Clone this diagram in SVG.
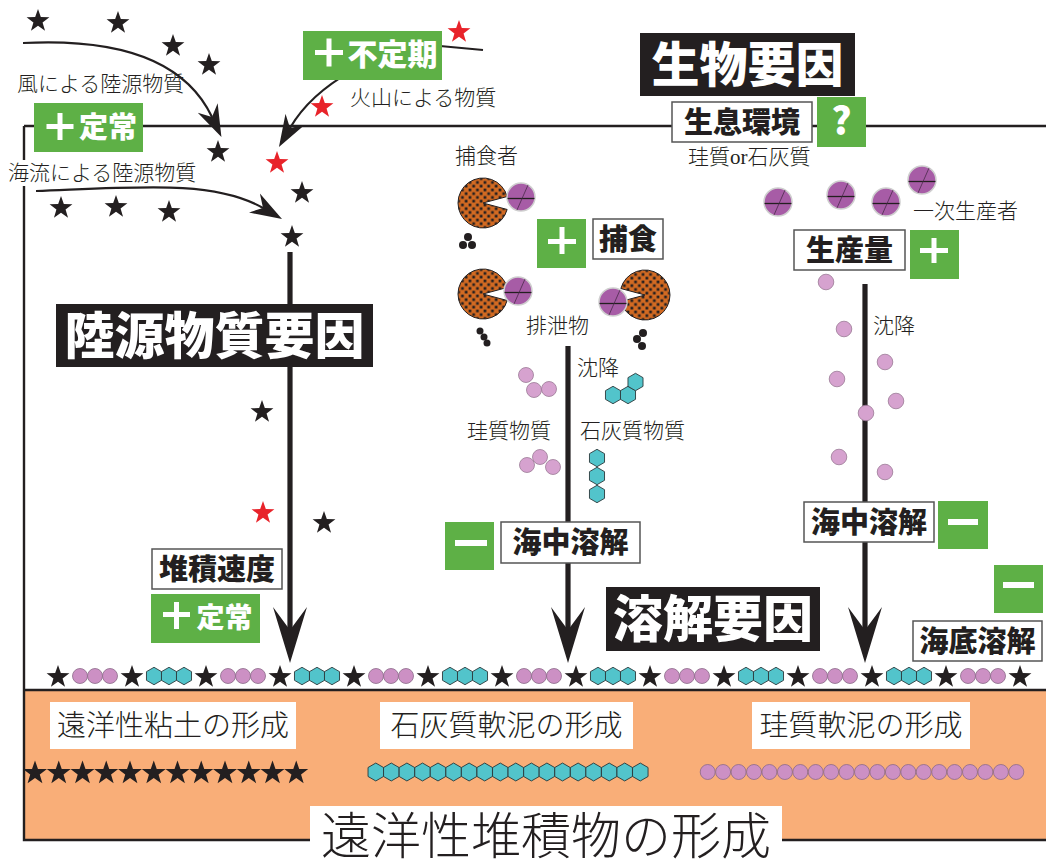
<svg xmlns="http://www.w3.org/2000/svg" width="1046" height="866" viewBox="0 0 1046 866">
<defs>
<style>
.frame{stroke:#231f20;stroke-width:2.4;fill:none}
.shaft{stroke:#231f20;stroke-width:5.2}
.curve{stroke:#231f20;stroke-width:2.2;fill:none}
.ink{fill:#231f20}
.serif{font-family:"Liberation Serif","Noto Sans CJK JP",serif;font-size:21px;font-weight:300;fill:#231f20}
.bigserif{font-family:"Liberation Serif","Noto Sans CJK JP",serif;font-weight:300;fill:#231f20;text-anchor:middle}
.head{font-family:"Noto Sans CJK JP","Noto Sans CJK SC",sans-serif;font-weight:900;fill:#fff;text-anchor:middle}
.lbl{font-family:"Noto Sans CJK JP","Noto Sans CJK SC",sans-serif;font-weight:900;font-size:29px;fill:#231f20;text-anchor:middle}
.blk{fill:#231f20}
.wbox{fill:#fff;stroke:#555;stroke-width:1.5}
.plain{fill:#fff}
.green{fill:#5eb046}
.wt{fill:#fff}
.star{fill:#231f20}
.red{fill:#e8232a}
.silt{fill:#cc90c4;stroke:#8a6a88;stroke-width:0.8}
.pink{fill:#d6a2cf;stroke:#9a7a96;stroke-width:0.8}
.hex{fill:#52c4cb;stroke:#2b3a3c;stroke-width:0.9}
.prey{fill:#a75ca6;stroke:#cfcfcf;stroke-width:1.5}
.pred{fill:url(#dots);stroke:#231f20;stroke-width:1}
.sand{fill:#f9ae78}
</style>
<pattern id="dots" width="7.5" height="7.5" patternUnits="userSpaceOnUse">
  <rect width="7.5" height="7.5" fill="#d26a22"/>
  <rect x="0.6" y="0.6" width="2.7" height="2.7" fill="#231f20"/>
  <rect x="4.3" y="4.3" width="2.7" height="2.7" fill="#231f20"/>
</pattern>
<path id="st" d="M0,-12 L2.82,-3.88 L11.41,-3.71 L4.57,1.48 L7.05,9.71 L0,4.8 L-7.05,9.71 L-4.57,1.48 L-11.41,-3.71 L-2.82,-3.88 Z"/>
<path id="hx" d="M0,-8.7 L7.53,-4.35 L7.53,4.35 L0,8.7 L-7.53,4.35 L-7.53,-4.35 Z"/>
<path id="pac" d="M0,0 L24.15,-6.47 A25,25 0 1 0 24.15,6.47 Z"/>
<g id="prey">
  <circle r="14" class="prey"/>
  <line x1="-13.5" y1="1.5" x2="13.5" y2="1.5" stroke="#231f20" stroke-width="1.3"/>
  <line x1="-4" y1="13" x2="7" y2="-12" stroke="#4a2a4a" stroke-width="0.8"/>
</g>
<marker id="barb" viewBox="0 0 32 24" refX="10" refY="12" markerWidth="32" markerHeight="24" markerUnits="userSpaceOnUse" orient="auto">
  <path d="M0,1 L32,12 L0,23 L10,12 Z" fill="#231f20"/>
</marker>
</defs>

<rect width="1046" height="866" fill="#fff"/>

<!-- seabed band and ocean frame -->
<g id="seabed">
  <rect x="24" y="690" width="1022" height="150" class="sand"/>
  <path class="frame" d="M24,126 H1046 M24,126 V840 H1046 M24,690 H1046"/>
</g>

<!-- connectors -->
<g id="connectors">
  <path class="curve" d="M23,43 C120,38 185,60 212,117" marker-end="url(#barb)"/>
  <path class="curve" d="M36,191 C140,187 215,180 263,208" marker-end="url(#barb)"/>
  <path class="curve" d="M483,50 L440,46 C380,46 315,85 290,128" marker-end="url(#barb)"/>
  <line class="shaft" x1="290" y1="252" x2="290" y2="632"/>
  <path class="ink" d="M290,663 L273,607 Q284,622 290,630 Q296,622 307,607 Z"/>
  <line class="shaft" x1="568" y1="346" x2="568" y2="632"/>
  <path class="ink" d="M568,663 L551,607 Q562,622 568,630 Q574,622 585,607 Z"/>
  <line class="shaft" x1="865" y1="284" x2="865" y2="632"/>
  <path class="ink" d="M865,663 L848,607 Q859,622 865,630 Q871,622 882,607 Z"/>
</g>

<!-- terrigenous particles (stars) -->
<g id="terrigenous">
  <use href="#st" class="star" x="38" y="21"/>
  <use href="#st" class="star" x="118" y="23"/>
  <use href="#st" class="star" x="173" y="46"/>
  <use href="#st" class="star" x="209" y="65"/>
  <use href="#st" class="star" x="218" y="152"/>
  <use href="#st" class="star" x="302" y="193"/>
  <use href="#st" class="star" x="61" y="208"/>
  <use href="#st" class="star" x="116" y="207"/>
  <use href="#st" class="star" x="169" y="212"/>
  <use href="#st" class="star" x="292" y="237"/>
  <use href="#st" class="star" x="262" y="412"/>
  <use href="#st" class="star" x="324" y="523"/>
  <use href="#st" class="red" x="459" y="32"/>
  <use href="#st" class="red" x="322" y="107"/>
  <use href="#st" class="red" x="277" y="163"/>
  <use href="#st" class="red" x="263" y="513"/>
</g>

<!-- primary producers -->
<g id="producers">
  <use href="#prey" x="778" y="202"/>
  <use href="#prey" x="841" y="195"/>
  <use href="#prey" x="886" y="202"/>
  <use href="#prey" x="922" y="180"/>
</g>

<!-- predators and faecal pellets -->
<g id="predators">
  <use href="#pac" class="pred" x="483" y="203"/>
  <use href="#prey" x="521" y="197"/>
  <circle cx="468" cy="237" r="4" class="ink"/>
  <circle cx="463" cy="245" r="4" class="ink"/>
  <circle cx="472" cy="245" r="4" class="ink"/>
  <use href="#pac" class="pred" x="483" y="294"/>
  <use href="#prey" x="518" y="291"/>
  <circle cx="480" cy="331" r="3.5" class="ink"/>
  <circle cx="484" cy="337" r="3.5" class="ink"/>
  <circle cx="487" cy="343" r="3.5" class="ink"/>
  <use href="#pac" class="pred" transform="translate(645,295) scale(-1,1)"/>
  <use href="#prey" x="613" y="302"/>
  <circle cx="643" cy="333" r="4" class="ink"/>
  <circle cx="637" cy="339" r="4" class="ink"/>
  <circle cx="642" cy="346" r="4" class="ink"/>
</g>

<!-- sinking biogenic particles -->
<g id="sinking">
  <circle cx="526" cy="375" r="7.5" class="pink"/>
  <circle cx="534" cy="390" r="7.5" class="pink"/>
  <circle cx="549" cy="389" r="7.5" class="pink"/>
  <circle cx="527" cy="465" r="7.5" class="pink"/>
  <circle cx="540" cy="457" r="7.5" class="pink"/>
  <circle cx="553" cy="467" r="7.5" class="pink"/>
  <use href="#hx" class="hex" x="613" y="395"/>
  <use href="#hx" class="hex" x="628" y="395"/>
  <use href="#hx" class="hex" x="635.5" y="382"/>
  <use href="#hx" class="hex" x="597" y="458"/>
  <use href="#hx" class="hex" x="597" y="476"/>
  <use href="#hx" class="hex" x="597" y="494"/>
  <circle cx="826" cy="282" r="7.8" class="pink"/>
  <circle cx="844" cy="329" r="7.8" class="pink"/>
  <circle cx="885" cy="362" r="7.8" class="pink"/>
  <circle cx="837" cy="379" r="7.8" class="pink"/>
  <circle cx="896" cy="401" r="7.8" class="pink"/>
  <circle cx="866" cy="413" r="7.8" class="pink"/>
  <circle cx="839" cy="457" r="7.8" class="pink"/>
  <circle cx="885" cy="472" r="7.8" class="pink"/>
</g>

<!-- surface sediment layer -->
<g id="surface-layer">
  <use href="#st" class="star" x="58" y="677"/>
  <circle cx="80" cy="676" r="7.5" class="silt"/><circle cx="95" cy="676" r="7.5" class="silt"/><circle cx="110" cy="676" r="7.5" class="silt"/>
  <use href="#st" class="star" x="132" y="677"/>
  <use href="#hx" class="hex" x="154" y="676"/><use href="#hx" class="hex" x="169" y="676"/><use href="#hx" class="hex" x="184" y="676"/>
  <use href="#st" class="star" x="206" y="677"/>
  <circle cx="228" cy="676" r="7.5" class="silt"/><circle cx="243" cy="676" r="7.5" class="silt"/><circle cx="258" cy="676" r="7.5" class="silt"/>
  <use href="#st" class="star" x="280" y="677"/>
  <use href="#hx" class="hex" x="302" y="676"/><use href="#hx" class="hex" x="317" y="676"/><use href="#hx" class="hex" x="332" y="676"/>
  <use href="#st" class="star" x="354" y="677"/>
  <circle cx="376" cy="676" r="7.5" class="silt"/><circle cx="391" cy="676" r="7.5" class="silt"/><circle cx="406" cy="676" r="7.5" class="silt"/>
  <use href="#st" class="star" x="428" y="677"/>
  <use href="#hx" class="hex" x="450" y="676"/><use href="#hx" class="hex" x="465" y="676"/><use href="#hx" class="hex" x="480" y="676"/>
  <use href="#st" class="star" x="502" y="677"/>
  <circle cx="524" cy="676" r="7.5" class="silt"/><circle cx="539" cy="676" r="7.5" class="silt"/><circle cx="554" cy="676" r="7.5" class="silt"/>
  <use href="#st" class="star" x="576" y="677"/>
  <use href="#hx" class="hex" x="598" y="676"/><use href="#hx" class="hex" x="613" y="676"/><use href="#hx" class="hex" x="628" y="676"/>
  <use href="#st" class="star" x="650" y="677"/>
  <circle cx="672" cy="676" r="7.5" class="silt"/><circle cx="687" cy="676" r="7.5" class="silt"/><circle cx="702" cy="676" r="7.5" class="silt"/>
  <use href="#st" class="star" x="724" y="677"/>
  <use href="#hx" class="hex" x="746" y="676"/><use href="#hx" class="hex" x="761" y="676"/><use href="#hx" class="hex" x="776" y="676"/>
  <use href="#st" class="star" x="798" y="677"/>
  <circle cx="820" cy="676" r="7.5" class="silt"/><circle cx="835" cy="676" r="7.5" class="silt"/><circle cx="850" cy="676" r="7.5" class="silt"/>
  <use href="#st" class="star" x="872" y="677"/>
  <use href="#hx" class="hex" x="894" y="676"/><use href="#hx" class="hex" x="909" y="676"/><use href="#hx" class="hex" x="924" y="676"/>
  <use href="#st" class="star" x="946" y="677"/>
  <circle cx="968" cy="676" r="7.5" class="silt"/><circle cx="983" cy="676" r="7.5" class="silt"/><circle cx="998" cy="676" r="7.5" class="silt"/>
  <use href="#st" class="star" x="1020" y="677"/>
</g>

<!-- deposit rows in the seabed -->
<g id="clay-row">
  <use href="#st" class="star" transform="translate(35,773) scale(1.05)"/>
  <use href="#st" class="star" transform="translate(58.75,773) scale(1.05)"/>
  <use href="#st" class="star" transform="translate(82.5,773) scale(1.05)"/>
  <use href="#st" class="star" transform="translate(106.25,773) scale(1.05)"/>
  <use href="#st" class="star" transform="translate(130,773) scale(1.05)"/>
  <use href="#st" class="star" transform="translate(153.75,773) scale(1.05)"/>
  <use href="#st" class="star" transform="translate(177.5,773) scale(1.05)"/>
  <use href="#st" class="star" transform="translate(201.25,773) scale(1.05)"/>
  <use href="#st" class="star" transform="translate(225,773) scale(1.05)"/>
  <use href="#st" class="star" transform="translate(248.75,773) scale(1.05)"/>
  <use href="#st" class="star" transform="translate(272.5,773) scale(1.05)"/>
  <use href="#st" class="star" transform="translate(296.25,773) scale(1.05)"/>
</g>
<g id="calcareous-row">
  <use href="#hx" class="hex" transform="translate(375.8,772) scale(1.03)"/>
  <use href="#hx" class="hex" transform="translate(391.3,772) scale(1.03)"/>
  <use href="#hx" class="hex" transform="translate(406.9,772) scale(1.03)"/>
  <use href="#hx" class="hex" transform="translate(422.5,772) scale(1.03)"/>
  <use href="#hx" class="hex" transform="translate(438.0,772) scale(1.03)"/>
  <use href="#hx" class="hex" transform="translate(453.6,772) scale(1.03)"/>
  <use href="#hx" class="hex" transform="translate(469.1,772) scale(1.03)"/>
  <use href="#hx" class="hex" transform="translate(484.7,772) scale(1.03)"/>
  <use href="#hx" class="hex" transform="translate(500.3,772) scale(1.03)"/>
  <use href="#hx" class="hex" transform="translate(515.8,772) scale(1.03)"/>
  <use href="#hx" class="hex" transform="translate(531.4,772) scale(1.03)"/>
  <use href="#hx" class="hex" transform="translate(546.9,772) scale(1.03)"/>
  <use href="#hx" class="hex" transform="translate(562.5,772) scale(1.03)"/>
  <use href="#hx" class="hex" transform="translate(578.1,772) scale(1.03)"/>
  <use href="#hx" class="hex" transform="translate(593.6,772) scale(1.03)"/>
  <use href="#hx" class="hex" transform="translate(609.2,772) scale(1.03)"/>
  <use href="#hx" class="hex" transform="translate(624.7,772) scale(1.03)"/>
  <use href="#hx" class="hex" transform="translate(640.3,772) scale(1.03)"/>
</g>
<g id="siliceous-row">
  <circle cx="707.7" cy="772" r="7.5" class="silt"/>
  <circle cx="723.1" cy="772" r="7.5" class="silt"/>
  <circle cx="738.6" cy="772" r="7.5" class="silt"/>
  <circle cx="754.0" cy="772" r="7.5" class="silt"/>
  <circle cx="769.4" cy="772" r="7.5" class="silt"/>
  <circle cx="784.9" cy="772" r="7.5" class="silt"/>
  <circle cx="800.3" cy="772" r="7.5" class="silt"/>
  <circle cx="815.7" cy="772" r="7.5" class="silt"/>
  <circle cx="831.1" cy="772" r="7.5" class="silt"/>
  <circle cx="846.6" cy="772" r="7.5" class="silt"/>
  <circle cx="862.0" cy="772" r="7.5" class="silt"/>
  <circle cx="877.4" cy="772" r="7.5" class="silt"/>
  <circle cx="892.9" cy="772" r="7.5" class="silt"/>
  <circle cx="908.3" cy="772" r="7.5" class="silt"/>
  <circle cx="923.7" cy="772" r="7.5" class="silt"/>
  <circle cx="939.2" cy="772" r="7.5" class="silt"/>
  <circle cx="954.6" cy="772" r="7.5" class="silt"/>
  <circle cx="970.0" cy="772" r="7.5" class="silt"/>
  <circle cx="985.4" cy="772" r="7.5" class="silt"/>
  <circle cx="1000.9" cy="772" r="7.5" class="silt"/>
  <circle cx="1016.3" cy="772" r="7.5" class="silt"/>
</g>

<!-- plain captions -->
<g id="captions">
  <text class="serif" x="17" y="91">風による陸源物質</text>
  <rect x="5" y="160" width="195" height="26" class="plain"/>
  <text class="serif" x="8" y="180">海流による陸源物質</text>
  <text class="serif" x="350" y="105">火山による物質</text>
  <text class="serif" x="455" y="163">捕食者</text>
  <text class="serif" x="526" y="333">排泄物</text>
  <text class="serif" x="577" y="375">沈降</text>
  <text class="serif" x="467" y="438">珪質物質</text>
  <text class="serif" x="580" y="438">石灰質物質</text>
  <text class="serif" x="873" y="333">沈降</text>
  <text class="serif" x="688" y="164">珪質or石灰質</text>
  <text class="serif" x="913" y="218">一次生産者</text>
</g>

<!-- factor headings -->
<g id="terrigenous-factor">
  <rect x="56" y="304" width="317" height="63" class="blk"/>
  <text class="head" x="214.5" y="354" font-size="50">陸源物質要因</text>
</g>
<g id="biological-factor">
  <rect x="640" y="33" width="215" height="63" class="blk"/>
  <text class="head" x="747.5" y="82" font-size="48">生物要因</text>
</g>
<g id="dissolution-factor">
  <rect x="606" y="587" width="214" height="64" class="blk"/>
  <text class="head" x="713" y="637" font-size="50">溶解要因</text>
</g>

<!-- wind supply: steady -->
<g id="wind-steady">
  <rect x="34" y="103" width="109" height="49" class="green"/>
  <rect x="46.5" y="124" width="27" height="5" class="wt"/>
  <rect x="57.5" y="113" width="5" height="27" class="wt"/>
  <text class="head" x="108" y="138" font-size="29">定常</text>
</g>
<!-- volcanic supply: irregular -->
<g id="volcanic-irregular">
  <rect x="303" y="31" width="139" height="49" class="green"/>
  <rect x="315" y="50" width="28" height="5" class="wt"/>
  <rect x="326.5" y="38.5" width="5" height="28" class="wt"/>
  <text class="head" x="392.5" y="65" font-size="30">不定期</text>
</g>
<!-- habitat -->
<g id="habitat">
  <rect x="672" y="102" width="140" height="40" class="wbox"/>
  <text class="lbl" x="742" y="132.5">生息環境</text>
</g>
<g id="habitat-unknown">
  <rect x="817" y="97" width="49" height="50" class="green"/>
  <text class="head" x="841.5" y="135" font-size="38">?</text>
</g>
<!-- production -->
<g id="production">
  <rect x="794" y="230" width="111" height="40" class="wbox"/>
  <text class="lbl" x="849.5" y="260.5">生産量</text>
</g>
<g id="production-plus">
  <rect x="910" y="230" width="49" height="49" class="green"/>
  <rect x="920" y="248" width="28" height="5" class="wt"/>
  <rect x="931.5" y="238" width="5" height="25" class="wt"/>
</g>
<!-- predation -->
<g id="predation-plus">
  <rect x="537" y="219" width="49" height="49" class="green"/>
  <rect x="548" y="239" width="28" height="5" class="wt"/>
  <rect x="559.5" y="227" width="5" height="27" class="wt"/>
</g>
<g id="predation">
  <rect x="593" y="219" width="70" height="40" class="wbox"/>
  <text class="lbl" x="628" y="249.5">捕食</text>
</g>
<!-- dissolution in the water column (middle) -->
<g id="water-dissolution-minus-a">
  <rect x="445" y="522" width="49" height="48" class="green"/>
  <rect x="455" y="540" width="32" height="6" class="wt"/>
</g>
<g id="water-dissolution-a">
  <rect x="501" y="522" width="139" height="41" class="wbox"/>
  <text class="lbl" x="570.5" y="553">海中溶解</text>
</g>
<!-- dissolution in the water column (right) -->
<g id="water-dissolution-b">
  <rect x="804" y="502" width="130" height="40" class="wbox"/>
  <text class="lbl" x="869" y="532.5">海中溶解</text>
</g>
<g id="water-dissolution-minus-b">
  <rect x="938" y="501" width="50" height="48" class="green"/>
  <rect x="948" y="519" width="30" height="6" class="wt"/>
</g>
<!-- dissolution at the sea floor -->
<g id="floor-dissolution-minus">
  <rect x="994" y="565" width="49" height="48" class="green"/>
  <rect x="1003" y="582" width="31" height="6" class="wt"/>
</g>
<g id="floor-dissolution">
  <rect x="913" y="621" width="129" height="40" class="wbox"/>
  <text class="lbl" x="977.5" y="651.5">海底溶解</text>
</g>
<!-- accumulation rate -->
<g id="accumulation-rate">
  <rect x="152" y="549" width="130" height="40" class="wbox"/>
  <text class="lbl" x="217" y="579.5">堆積速度</text>
</g>
<g id="accumulation-steady">
  <rect x="151" y="594" width="109" height="49" class="green"/>
  <rect x="163" y="612" width="27" height="5" class="wt"/>
  <rect x="174" y="602" width="5" height="27" class="wt"/>
  <text class="head" x="224.5" y="628" font-size="28">定常</text>
</g>

<!-- sediment types -->
<g id="pelagic-clay">
  <rect x="50" y="702" width="246" height="47" class="plain"/>
  <text class="bigserif" x="173" y="736" font-size="29">遠洋性粘土の形成</text>
</g>
<g id="calcareous-ooze">
  <rect x="380" y="702" width="253" height="47" class="plain"/>
  <text class="bigserif" x="506.5" y="736" font-size="29">石灰質軟泥の形成</text>
</g>
<g id="siliceous-ooze">
  <rect x="752" y="702" width="218" height="47" class="plain"/>
  <text class="bigserif" x="861" y="736" font-size="29">珪質軟泥の形成</text>
</g>
<g id="pelagic-sediment">
  <rect x="310" y="806" width="472" height="60" class="plain"/>
  <text class="bigserif" x="546" y="854" font-size="50">遠洋性堆積物の形成</text>
</g>
</svg>
